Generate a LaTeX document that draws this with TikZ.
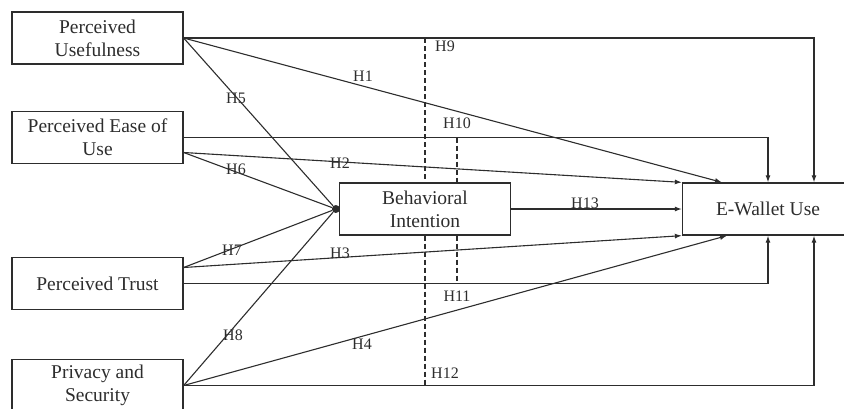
\documentclass[tikz,border=0pt]{standalone}
\usepackage{fontspec}
\setmainfont{Liberation Serif}
\usetikzlibrary{arrows.meta, positioning, calc}
\definecolor{linegray}{RGB}{45,45,45}

\begin{document}
\begin{tikzpicture}[x=1pt, y=-1pt,
  construct/.style={draw=linegray, line width=1.3pt, minimum width=171pt, minimum height=52pt,
    align=center, inner sep=2pt, text=linegray, font=\fontsize{19.5}{23}\selectfont},
  hyp/.style={inner sep=0pt, text=linegray, font=\fontsize{16}{18}\selectfont},
  link/.style={draw=linegray, line width=1.1pt, -{Latex[length=7pt,width=5pt]}},
  plain/.style={draw=linegray, line width=1.1pt},
  divider/.style={draw=linegray, line width=1.1pt, dash pattern=on 5pt off 3pt}]
  \useasboundingbox (0,0) rectangle (844,408);

  % Independent constructs
  \node[construct] (pu) at (97.5,38) {Perceived\\Usefulness};
  \node[construct] (peu) at (97.5,137.5) {Perceived Ease of\\Use};
  \node[construct] (pt) at (97.5,283.5) {Perceived Trust};
  \node[construct] (ps) at (97.5,385.5) {Privacy and\\Security};

  % Mediator and outcome
  \node[construct] (bi) at (425,209) {Behavioral\\Intention};
  \node[construct] (ew) at (768,209) {E-Wallet Use};
  \node[circle, fill=linegray, inner sep=0pt, minimum size=8pt] (hub) at ($(bi.west)+(-3,0)$) {};

  % Exit points on the left-hand boxes
  \coordinate (peu-lo) at ($(peu.east)+(0,15)$);
  \coordinate (pt-hi) at ($(pt.east)+(0,-16)$);

  % Direct effects H1--H4
  \draw[link] (pu.east) -- ($(ew.north)+(-46,0)$);
  \draw[link] (peu-lo) -- (ew.north west);
  \draw[link] (pt-hi) -- (ew.south west);
  \draw[link] (ps.east) -- ($(ew.south)+(-41,0)$);

  % Effects on intention H5--H8
  \foreach \src in {pu.east, peu-lo, pt-hi, ps.east}
    \draw[plain] (\src) -- (hub);

  % H13
  \draw[link] (bi.east) -- (ew.west);

  % Moderated paths H9--H12
  \draw[link] (pu.east) -| ($(ew.north)+(46,0)$);
  \draw[link] (peu.east) -| (ew.north);
  \draw[link] (pt.east) -| (ew.south);
  \draw[link] (ps.east) -| ($(ew.south)+(46,0)$);

  % Dashed moderation lines
  \coordinate (bi-n2) at ($(bi.north)+(32,0)$);
  \coordinate (bi-s2) at ($(bi.south)+(32,0)$);
  \draw[divider] (bi.north |- pu.east) -- (bi.north);
  \draw[divider] (bi.south) -- (bi.south |- ps.east);
  \draw[divider] (bi-n2 |- peu.east) -- (bi-n2);
  \draw[divider] (bi-s2) -- (bi-s2 |- pt.east);

  % Hypothesis labels
  \node[hyp] (h1) at (363,76) {H1};
  \node[hyp] (h2) at (340,163) {H2};
  \node[hyp] (h3) at (340,253) {H3};
  \node[hyp] (h4) at (362,344) {H4};
  \node[hyp] (h5) at (236,98) {H5};
  \node[hyp] (h6) at (236,169) {H6};
  \node[hyp] (h7) at (232,250) {H7};
  \node[hyp] (h8) at (233,335) {H8};
  \node[hyp] (h9) at (445,46) {H9};
  \node[hyp] (h10) at (457,123) {H10};
  \node[hyp] (h11) at (457,296) {H11};
  \node[hyp] (h12) at (445,373) {H12};
  \node[hyp] (h13) at (585,203) {H13};
\end{tikzpicture}
\end{document}
